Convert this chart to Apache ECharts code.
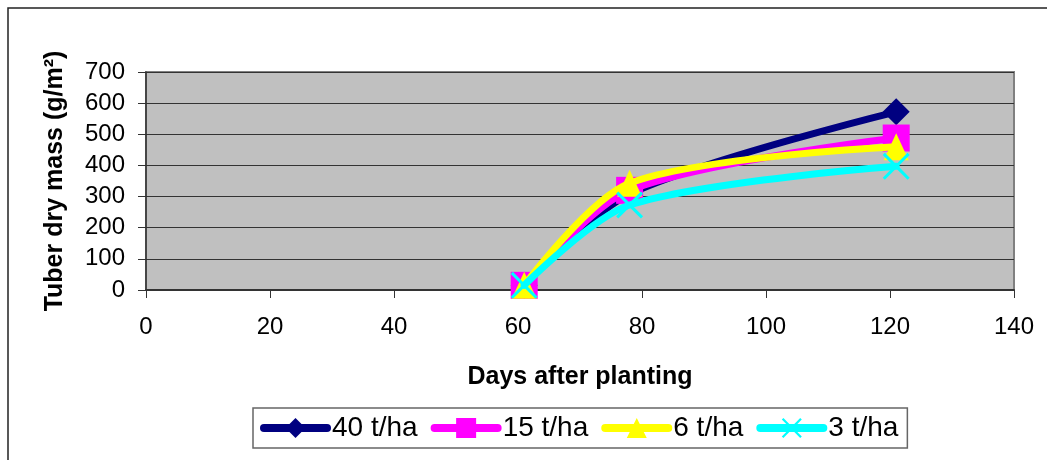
<!DOCTYPE html>
<html>
<head>
<meta charset="utf-8">
<script src="https://cdn.jsdelivr.net/npm/echarts@6/dist/echarts.min.js"></script>
<style>
  html, body { margin: 0; padding: 0; background: #ffffff; }
  #chart { width: 1047px; height: 460px; }
</style>
</head>
<body>
<div id="chart"></div>
<script>
// Days after planting at which tubers were sampled
const days = [61, 78, 121];

// Tuber dry mass (g/m2) per seed rate
const seriesNames = ['40 t/ha', '15 t/ha', '6 t/ha', '3 t/ha'];
const mass40 = [15, 308, 572];
const mass15 = [15, 320, 488];
const mass6  = [15, 343, 460];
const mass3  = [15, 273, 397];

const yTicks = [0, 100, 200, 300, 400, 500, 600, 700];
const xTicks = [0, 20, 40, 60, 80, 100, 120, 140];

const FONT = '"Liberation Sans", Arial, sans-serif';
const colors = ['#000080', '#FF00FF', '#FFFF00', '#00FFFF'];
const crossPath = 'path://M0,8 L8,0 L50,42 L92,0 L100,8 L58,50 L100,92 L92,100 L50,58 L8,100 L0,92 L42,50 Z';
const symbols = ['diamond', 'rect', 'triangle', crossPath];
const symbolSizes = [[27, 27], [27, 27], [25, 27], [27, 27]];
const values = [mass40, mass15, mass6, mass3];

const chart = echarts.init(document.getElementById('chart'), null, { renderer: 'canvas' });

const series = seriesNames.map((name, i) => ({
  name: name,
  type: 'line',
  data: days.map((d, k) => [d, values[i][k]]),
  smooth: 0.3,
  symbol: symbols[i],
  symbolSize: symbolSizes[i],
  showAllSymbol: true,
  color: colors[i],
  lineStyle: { color: colors[i], width: 7, cap: 'round', join: 'round' },
  itemStyle: { color: colors[i], borderWidth: 0 },
  emphasis: { disabled: true },
  z: 2 + i
}));

chart.setOption({
  animation: false,
  backgroundColor: '#ffffff',
  graphic: [{
    type: 'rect',
    shape: { x: 8, y: 8, width: 1100, height: 500 },
    style: { fill: 'none', stroke: '#222', lineWidth: 1.5 },
    z: 0
  }],
  grid: {
    left: 146, right: 33, top: 72, bottom: 170,
    show: true,
    backgroundColor: '#C0C0C0',
    borderColor: '#808080',
    borderWidth: 2
  },
  xAxis: {
    type: 'value',
    min: xTicks[0],
    max: xTicks[xTicks.length - 1],
    interval: 20,
    name: 'Days after planting',
    nameLocation: 'middle',
    nameGap: 75,
    nameTextStyle: { fontFamily: FONT, fontSize: 25, fontWeight: 'bold', color: '#000' },
    axisLine: { show: true, onZero: false, lineStyle: { color: '#333', width: 2 } },
    axisTick: { show: true, inside: false, length: 8, lineStyle: { color: '#333', width: 1 } },
    axisLabel: { fontFamily: FONT, fontSize: 24, color: '#000', margin: 25 },
    splitLine: { show: false }
  },
  yAxis: {
    type: 'value',
    min: yTicks[0],
    max: yTicks[yTicks.length - 1],
    interval: 100,
    name: 'Tuber dry mass (g/m²)',
    nameLocation: 'middle',
    nameRotate: 90,
    nameGap: 78,
    nameTextStyle: { fontFamily: FONT, fontSize: 25, fontWeight: 'bold', color: '#000' },
    axisLine: { show: true, lineStyle: { color: '#333', width: 1.5 } },
    axisTick: { show: true, inside: false, length: 8, lineStyle: { color: '#333', width: 1 } },
    axisLabel: { fontFamily: FONT, fontSize: 24, color: '#000', margin: 21 },
    splitLine: { show: true, lineStyle: { color: '#333', width: 1 } }
  },
  legend: {
    data: seriesNames,
    left: 253,
    top: 408,
    orient: 'horizontal',
    itemWidth: 63,
    itemHeight: 25,
    itemGap: 13,
    padding: [6, 9, 6, 7],
    borderColor: '#666',
    borderWidth: 1.5,
    backgroundColor: '#ffffff',
    selectedMode: false,
    lineStyle: { width: 8, cap: 'round' },
    textStyle: { fontFamily: FONT, fontSize: 28, color: '#000', padding: [0, 0, 0, 0] }
  },
  series: series
});
</script>
</body>
</html>
